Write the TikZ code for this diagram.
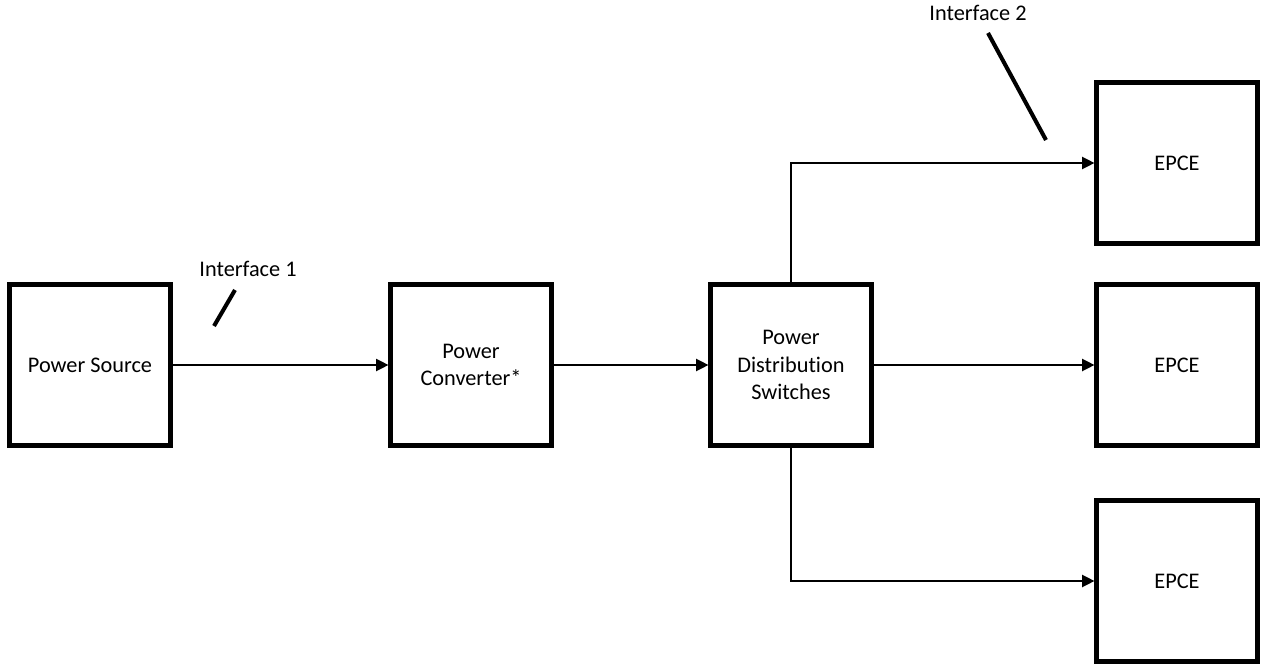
\documentclass[tikz,border=0pt]{standalone}
\usepackage{fontspec}
\setmainfont{Carlito}[Ligatures=NoCommon]
\usetikzlibrary{arrows.meta}

\begin{document}
\begin{tikzpicture}[
        x=0.02cm, y=-0.02cm,
        block/.style = {rectangle, draw, line width=2.4pt, minimum width=3.22cm,
                        minimum height=3.22cm, align=center,
                        font=\fontsize{12.7}{15.5}\selectfont},
        link/.style  = {draw, line width=0.75pt, -{Triangle[length=7pt,width=7pt]}},
        tag/.style   = {font=\fontsize{12.7}{15.5}\selectfont},
        tick/.style  = {line width=2.3pt}
        ]
        \useasboundingbox (0,0) rectangle (1262,666);
        % main chain
        \node[block] (source)    at (90,365)   {Power Source};
        \node[block] (converter) at (471,365)  {Power\\Converter*};
        \node[block] (switches)  at (791,365)  {Power\\Distribution\\Switches};
        % loads
        \node[block] (epceA) at (1177,163) {EPCE};
        \node[block] (epceB) at (1177,365) {EPCE};
        \node[block] (epceC) at (1177,581) {EPCE};

        \draw[link] (source) -- (converter);
        \draw[link] (converter) -- (switches);
        \draw[link] (switches) -- (epceB);
        \draw[link] (switches.north) |- (epceA);
        \draw[link] (switches.south) |- (epceC);

        % interface marks
        \node[tag] (ifaceA) at (248,269) {Interface 1};
        \node[tag] (ifaceB) at (978,13)  {Interface 2};
        \draw[tick] (214,326) -- (235,290);
        \draw[tick] (988,33) -- (1046,140);
    \end{tikzpicture}
\end{document}
